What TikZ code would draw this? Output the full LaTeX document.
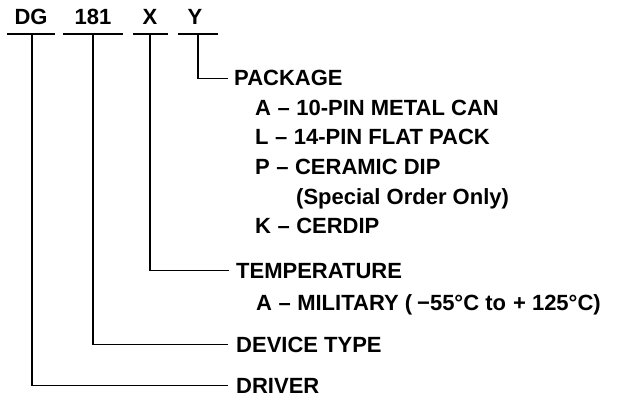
\documentclass[tikz,border=0pt]{standalone}
\usepackage{fontspec}
\setmainfont{Liberation Sans}
\newcommand\sep{\hspace{6.5pt}--\hspace{6.5pt}}
\tikzset{
  code/.style={anchor=base, inner sep=0pt, font=\fontsize{22}{22}\selectfont\bfseries},
  desc/.style={anchor=base west, inner sep=0pt, font=\fontsize{22}{22}\selectfont\bfseries},
  lead/.style={line width=1.8pt}
}

\begin{document}
\begin{tikzpicture}[x=1pt,y=1pt]
\useasboundingbox (0,0) rectangle (620,-398);
% part number fields
\node[code] (dg) at (31,-25) {DG};
\node[code] (num) at (93,-25) {181};
\node[code] (temp) at (150,-25) {X};
\node[code] (pkg) at (195,-25) {Y};
\draw[lead] (7,-34) -- (55,-34);
\draw[lead] (63,-34) -- (123,-34);
\draw[lead] (133,-34) -- (168,-34);
\draw[lead] (178,-34) -- (218,-34);
\coordinate (dgbar) at (32,-34);
\coordinate (numbar) at (93,-34);
\coordinate (tempbar) at (150,-34);
\coordinate (pkgbar) at (198,-34);
% descriptions
\node[desc] (package) at (234,-86) {PACKAGE};
\node[desc] (pkga) at (255,-115.5) {A\sep 10-PIN METAL CAN};
\node[desc] (pkgl) at (255,-145) {L\sep 14-PIN FLAT PACK};
\node[desc] (pkgp) at (255,-174.5) {P\sep CERAMIC DIP};
\node[desc] (pkgs) at (296,-204) {(Special Order Only)};
\node[desc] (pkgk) at (255,-233.5) {K\sep CERDIP};
\node[desc] (temperature) at (236,-278) {TEMPERATURE};
\node[desc] (tempa) at (256,-310) {A\sep MILITARY (\hspace{5pt}−55°C to \hspace{1pt}+\hspace{6pt}125°C)};
\node[desc] (device) at (236,-352) {DEVICE TYPE};
\node[desc] (driver) at (236,-393) {DRIVER};
% leaders
\draw[lead] (pkgbar) |- ([xshift=-6]package.west);
\draw[lead] (tempbar) |- ([xshift=-7]temperature.west);
\draw[lead] (numbar) |- ([xshift=-8]device.west);
\draw[lead] (dgbar) |- ([xshift=-8]driver.west);
\end{tikzpicture}
\end{document}
